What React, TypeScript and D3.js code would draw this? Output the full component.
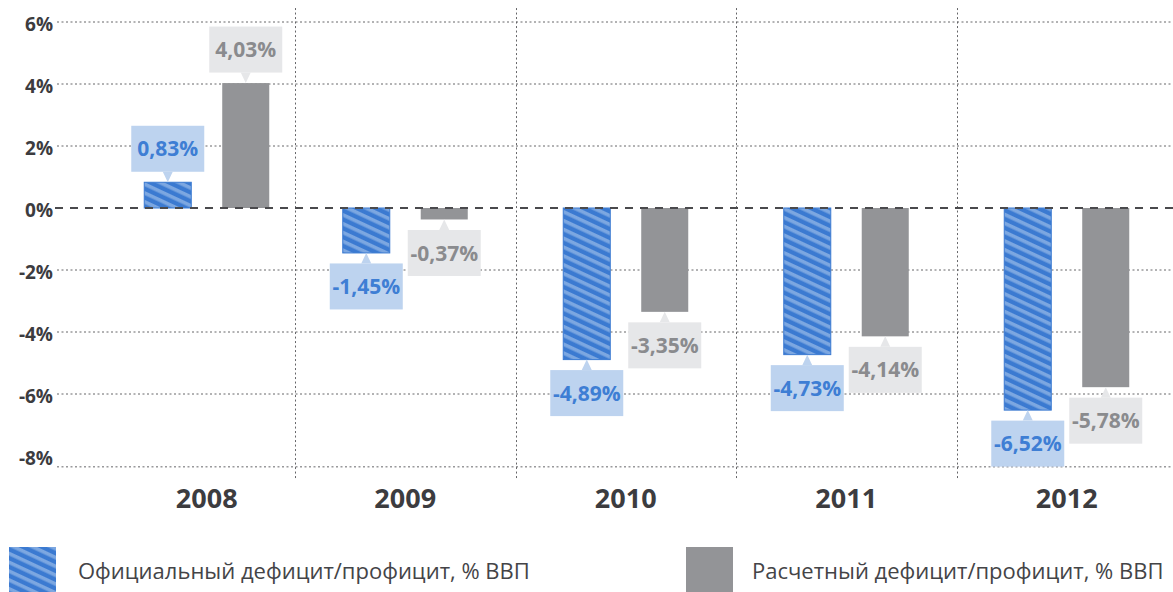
import React from "react";
import * as d3 from "d3";

const years = ["2008", "2009", "2010", "2011", "2012"];
const officialValues = [0.83, -1.45, -4.89, -4.73, -6.52];
const calculatedValues = [4.03, -0.37, -3.35, -4.14, -5.78];
const yTicks = [6, 4, 2, 0, -2, -4, -6, -8];
const seriesKeys = ["official", "calculated"];
const legendLabels = [
  "Официальный дефицит/профицит, % ВВП",
  "Расчетный дефицит/профицит, % ВВП",
];

const W = 1173;
const H = 592;
const FONT = "'Open Sans', 'DejaVu Sans', sans-serif";

const BLUE_DARK = "#3b7ad1";
const BLUE_LIGHT = "#7ca7e1";
const BLUE_BOX = "#bdd3ef";
const BLUE_TEXT = "#3e7ed4";
const GRAY_BAR = "#939497";
const GRAY_BOX = "#e6e7e9";
const GRAY_TEXT = "#8a8b8e";
const AXIS_TEXT = "#3c3c3f";

const fmt = (v: number) => v.toFixed(2).replace(".", ",") + "%";

export default function App() {
  const y = d3.scaleLinear().domain([-8, 6]).range([456, 22]);
  const plotTop = y(6.45);
  const plotBottom = y(-8.35);
  const sepBottom = y(-8.72);
  const gridLeft = 57;

  const x0 = d3.scaleBand<string>().domain(years).range([74.5, 1177]).padding(0);
  const x1 = d3
    .scaleBand<string>()
    .domain(seriesKeys)
    .range([-62.5, 62.5])
    .paddingInner(0.397)
    .paddingOuter(0);
  const firstShift = 22;
  const groupCenter = (i: number) =>
    (x0(years[i]) as number) + x0.bandwidth() / 2 + (i === 0 ? firstShift : 0);

  const bw = x1.bandwidth();
  const boxW = 73;
  const boxH = 46;
  const triH = 10.5;
  const triHalf = 5;

  const renderBar = (key: string, v: number, i: number) => {
    const cx = groupCenter(i) + (x1(key) as number);
    const top = y(Math.max(0, v));
    const bottom = y(Math.min(0, v));
    const isOff = key === "official";
    const center = cx + bw / 2;
    let boxY: number, tri: string;
    if (v >= 0) {
      boxY = top - triH - boxH;
      const b = boxY + boxH;
      tri = `M${center - triHalf},${b} L${center + triHalf},${b} L${center},${top} Z`;
    } else {
      boxY = bottom + triH;
      tri = `M${center - triHalf},${boxY} L${center + triHalf},${boxY} L${center},${bottom} Z`;
    }
    return (
      <g key={key + i}>
        <rect
          x={cx}
          y={top}
          width={bw}
          height={Math.max(0, bottom - top)}
          fill={isOff ? "url(#hatch)" : GRAY_BAR}
          stroke={isOff ? BLUE_DARK : "none"}
          strokeWidth={1}
        />
        <rect x={center - boxW / 2} y={boxY} width={boxW} height={boxH} fill={isOff ? BLUE_BOX : GRAY_BOX} />
        <path d={tri} fill={isOff ? BLUE_BOX : GRAY_BOX} />
        <text
          x={center}
          y={boxY + boxH / 2}
          dy="0.36em"
          textAnchor="middle"
          fontFamily={FONT}
          fontWeight={700}
          fontSize={21}
          fill={isOff ? BLUE_TEXT : GRAY_TEXT}
        >
          {fmt(v)}
        </text>
      </g>
    );
  };

  return (
    <svg
      width={W}
      height={H}
      style={{ position: "absolute", left: 0, top: 0, display: "block", background: "#fff" }}
    >
      <defs>
        <pattern id="hatch" patternUnits="userSpaceOnUse" width={20} height={8} patternTransform="rotate(25)">
          <rect x={0} y={0} width={20} height={8} fill={BLUE_DARK} />
          <rect x={0} y={0} width={20} height={3.6} fill={BLUE_LIGHT} />
        </pattern>
      </defs>

      {/* horizontal dotted gridlines */}
      {yTicks
        .filter((t) => t !== 0 && t !== -8)
        .map((t) => (
          <line
            key={"g" + t}
            x1={gridLeft}
            x2={W}
            y1={y(t)}
            y2={y(t)}
            stroke="#666669"
            strokeWidth={1}
            strokeDasharray="2 2.5"
          />
        ))}
      <line x1={gridLeft} x2={W} y1={plotBottom} y2={plotBottom} stroke="#666669" strokeWidth={1} strokeDasharray="2 2.5" />

      {/* vertical separators */}
      {years.slice(1).map((yr) => (
        <line
          key={"s" + yr}
          x1={Math.round(x0(yr) as number) + 0.5}
          x2={Math.round(x0(yr) as number) + 0.5}
          y1={plotTop}
          y2={sepBottom}
          stroke="#666669"
          strokeWidth={1}
          strokeDasharray="2 2.5"
        />
      ))}

      {/* bars + labels */}
      {years.map((_, i) => (
        <g key={"grp" + i}>
          {renderBar("official", officialValues[i], i)}
          {renderBar("calculated", calculatedValues[i], i)}
        </g>
      ))}

      {/* zero line */}
      <line x1={gridLeft - 2} x2={W} y1={y(0)} y2={y(0)} stroke="#4a4a4d" strokeWidth={2} strokeDasharray="8 7" />

      {/* y tick labels */}
      {yTicks.map((t) => (
        <text
          key={"t" + t}
          x={53}
          y={y(t) + 2}
          dy="0.36em"
          textAnchor="end"
          fontFamily={FONT}
          fontWeight={700}
          fontSize={19}
          fill={AXIS_TEXT}
        >
          {t + "%"}
        </text>
      ))}

      {/* year labels */}
      {years.map((yr, i) => (
        <text
          key={"y" + yr}
          x={groupCenter(i)}
          y={508}
          textAnchor="middle"
          fontFamily={FONT}
          fontWeight={700}
          fontSize={27}
          fill={AXIS_TEXT}
        >
          {yr}
        </text>
      ))}

      {/* legend */}
      <rect x={9} y={547} width={47} height={47} fill="url(#hatch)" />
      <text x={78} y={579} fontFamily={FONT} fontSize={22} fill="#444447">
        {legendLabels[0]}
      </text>
      <rect x={686} y={547} width={47} height={47} fill={GRAY_BAR} />
      <text x={752} y={579} fontFamily={FONT} fontSize={22} fill="#444447">
        {legendLabels[1]}
      </text>
    </svg>
  );
}
